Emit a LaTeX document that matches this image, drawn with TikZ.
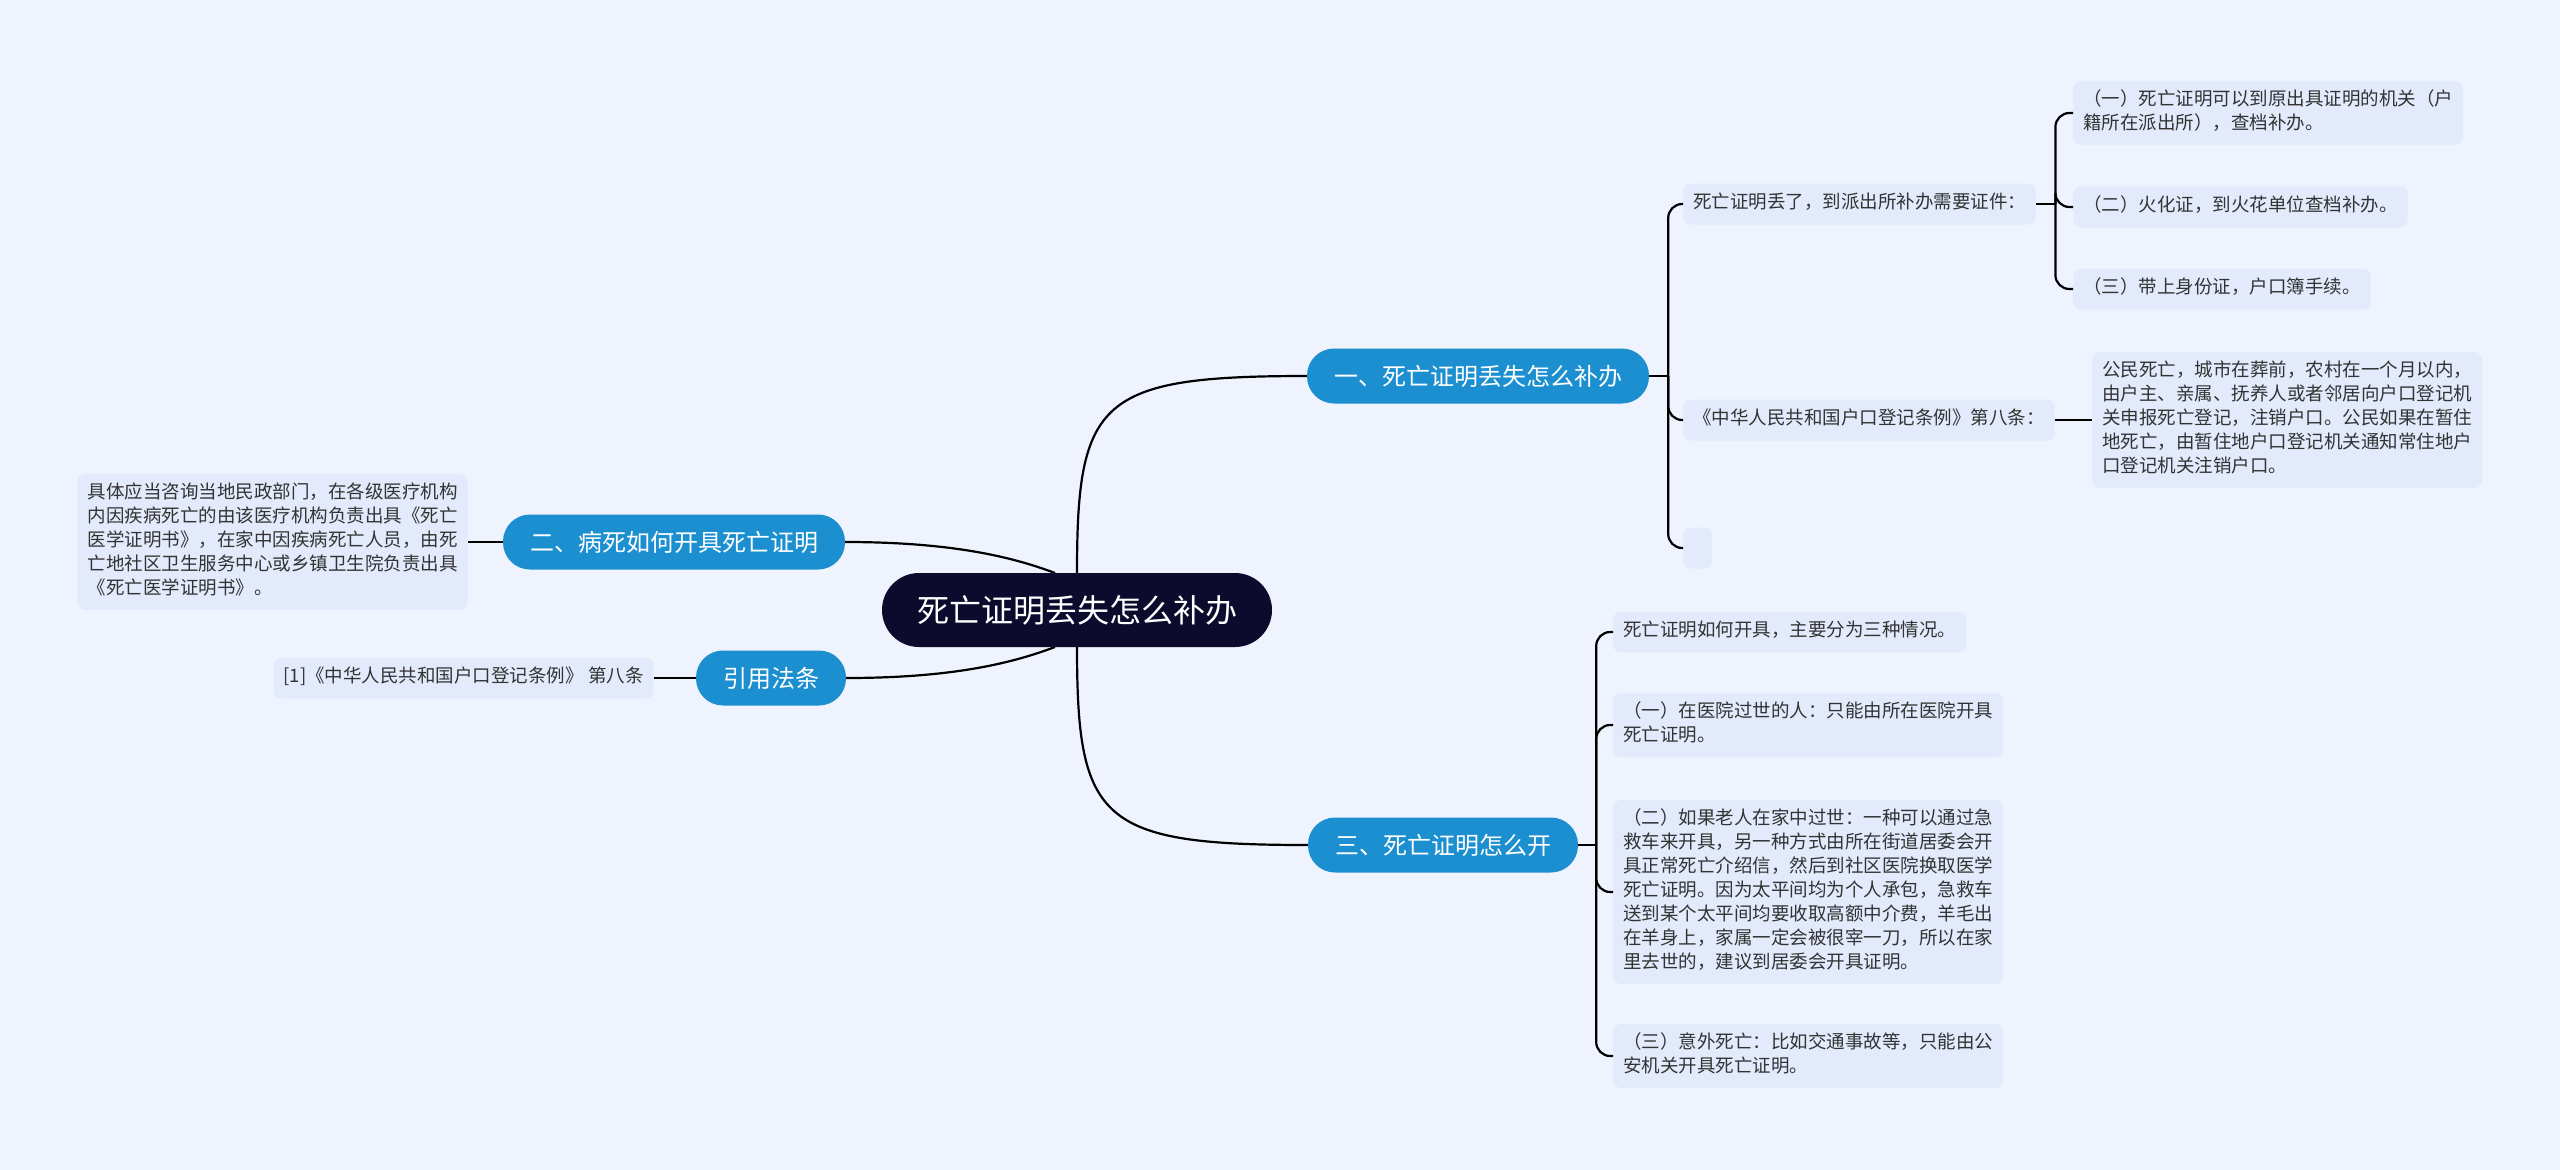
\documentclass[tikz,border=0pt]{standalone}
\usepackage{fontspec}
\setmainfont{Noto Sans CJK SC}
\usetikzlibrary{positioning}
\definecolor{pagebg}{HTML}{EEF3FD}
\definecolor{rootnavy}{HTML}{0C0A2D}
\definecolor{topicblue}{HTML}{1C8FD0}
\definecolor{leaffill}{HTML}{E2EAFB}
\definecolor{leaftext}{HTML}{333333}

\begin{document}
\begin{tikzpicture}[
    x=1pt, y=-1pt,
    root/.style={rectangle, rounded corners=37pt, fill=rootnavy, text=white, inner sep=0pt, minimum width=390pt, minimum height=74pt, text height=25.5pt, text depth=1.3pt, font=\fontsize{32}{36}\selectfont},
    topic/.style={rectangle, rounded corners=27pt, fill=topicblue, text=white, inner xsep=27pt, inner ysep=0pt, minimum height=55pt, text height=19pt, text depth=1pt, font=\fontsize{24}{28}\selectfont},
    leaf/.style={rectangle, rounded corners=8pt, fill=leaffill, text=leaftext, align=left, inner xsep=10pt, inner ysep=8.5pt, font=\fontsize{18.5}{24}\selectfont, execute at begin node=\strut, execute at end node=\strut},
    link/.style={draw=black, line width=2.2pt},
    brace/.style={link, rounded corners=14pt}
]
\fill[pagebg] (0,0) rectangle (2560,1170);

% root and main topics
\node[topic] (lost) at (1478,376) {一、死亡证明丢失怎么补办};
\node[topic] (illness) at (674,542) {二、病死如何开具死亡证明};
\node[topic] (law) at (771,678) {引用法条};
\node[topic] (issue) at (1443,845) {三、死亡证明怎么开};

\draw[link] (illness.east) .. controls +(110,0) and +(-40,-15) .. ([xshift=-22pt]1077,573);
\draw[link] (law.east) .. controls +(110,0) and +(-40,15) .. ([xshift=-22pt]1077,647);
\node[root] (root) at (1077,610) {死亡证明丢失怎么补办};
\draw[link] (root.north) .. controls +(0,-173) and +(-208,0) .. (lost.west);
\draw[link] (root.south) .. controls +(0,174) and +(-208,0) .. (issue.west);

% branch one
\node[leaf, anchor=west] (needdocs) at (1683,204) {死亡证明丢了，到派出所补办需要证件：};
\node[leaf, anchor=west] (article) at (1683,420) {《中华人民共和国户口登记条例》第八条：};
\node[leaf, anchor=west, minimum width=29pt] (blank) at (1683,548) {};
\node[leaf, anchor=west] (doc1) at (2073,113) {（一）死亡证明可以到原出具证明的机关（户\\籍所在派出所），查档补办。};
\node[leaf, anchor=west] (doc2) at (2073,207) {（二）火化证，到火花单位查档补办。};
\node[leaf, anchor=west] (doc3) at (2073,289) {（三）带上身份证，户口簿手续。};
\node[leaf, right=37pt of article] (articletext) {公民死亡，城市在葬前，农村在一个月以内，\\
    由户主、亲属、抚养人或者邻居向户口登记机\\
    关申报死亡登记，注销户口。公民如果在暂住\\
    地死亡，由暂住地户口登记机关通知常住地户\\
    口登记机关注销户口。};

\draw[link] (lost.east) -- ++(19,0) coordinate (lostj);
\foreach \n in {needdocs, article, blank}
    \draw[brace] (lostj) |- (\n.west);
\draw[link] (needdocs.east) -- ++(19,0) coordinate (needdocsj);
\foreach \n in {doc1, doc2, doc3}
    \draw[brace] (needdocsj) |- (\n.west);
\draw[link] (article) -- (articletext);

% branch three
\node[leaf, anchor=west] (howto) at (1613,632) {死亡证明如何开具，主要分为三种情况。};
\node[leaf, anchor=west] (hospital) at (1613,725) {（一）在医院过世的人：只能由所在医院开具\\死亡证明。};
\node[leaf, anchor=west] (athome) at (1613,892) {（二）如果老人在家中过世：一种可以通过急\\
    救车来开具，另一种方式由所在街道居委会开\\
    具正常死亡介绍信，然后到社区医院换取医学\\
    死亡证明。因为太平间均为个人承包，急救车\\
    送到某个太平间均要收取高额中介费，羊毛出\\
    在羊身上，家属一定会被很宰一刀，所以在家\\
    里去世的，建议到居委会开具证明。};
\node[leaf, anchor=west] (accident) at (1613,1056) {（三）意外死亡：比如交通事故等，只能由公\\安机关开具死亡证明。};

\draw[link] (issue.east) -- ++(18,0) coordinate (issuej);
\foreach \n in {howto, hospital, athome, accident}
    \draw[brace] (issuej) |- (\n.west);

% branch two and references
\node[leaf, left=35pt of illness] (illnesstext) {具体应当咨询当地民政部门，在各级医疗机构\\
    内因疾病死亡的由该医疗机构负责出具《死亡\\
    医学证明书》，在家中因疾病死亡人员，由死\\
    亡地社区卫生服务中心或乡镇卫生院负责出具\\
    《死亡医学证明书》。};
\node[leaf, left=42pt of law] (lawtext) {[1]《中华人民共和国户口登记条例》 第八条};

\draw[link] (illnesstext) -- (illness);
\draw[link] (lawtext) -- (law);

\end{tikzpicture}
\end{document}
